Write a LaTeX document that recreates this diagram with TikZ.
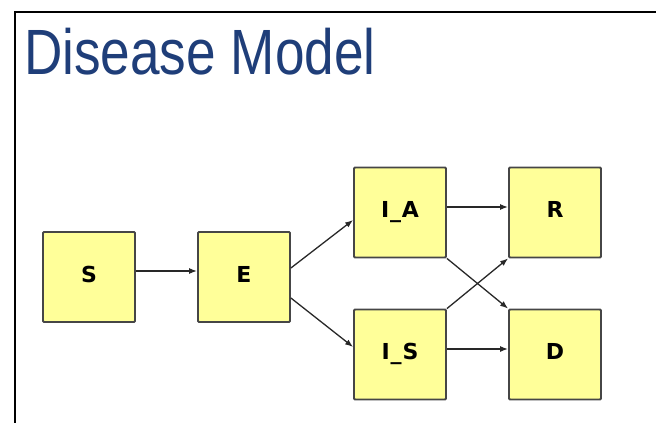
\documentclass[tikz,border=0pt]{standalone}
\usepackage{fontspec}
\usetikzlibrary{arrows.meta}
\newfontfamily\titlefont[FakeStretch=0.83]{Liberation Sans}
\newfontfamily\boxfont[LetterSpace=4]{DejaVu Sans}
\definecolor{titleblue}{RGB}{31,62,121}
\definecolor{boxfill}{RGB}{255,255,153}
\definecolor{boxline}{RGB}{70,70,70}
\definecolor{arrowcol}{RGB}{40,40,40}
\begin{document}
\begin{tikzpicture}[x=1pt,y=-1pt,
  statebox/.style={draw=boxline,fill=boxfill,line width=1.8pt,rounded corners=1pt,
    minimum width=92pt,minimum height=90pt,inner sep=0pt,text height=16pt,text depth=6pt,
    font=\boxfont\bfseries\fontsize{22}{22}\selectfont,text=black},
  flow/.style={draw=arrowcol,line width=1.3pt,-{Latex[length=8pt,width=6pt]}},
  frameline/.style={draw=black,line width=2.2pt}]
\useasboundingbox (0,0) rectangle (656,423);
\coordinate (fa) at (15,423);
\coordinate (fb) at (15,12);
\coordinate (fc) at (656,12);
\draw[frameline] (fa) -- (fb) -- (fc);
\node[anchor=base west,inner sep=0pt,text=titleblue,font=\titlefont\fontsize{64}{64}\selectfont] (title) at (24,74) {Disease Model};
\node[statebox] (S) at (89,277) {S};
\node[statebox] (E) at (244,277) {E};
\node[statebox] (IA) at (400,212.5) {I\_A};
\node[statebox] (IS) at (400,354.5) {I\_S};
\node[statebox] (R) at (555,212.5) {R};
\node[statebox] (D) at (555,354.5) {D};
\draw[flow] ([yshift=6pt]S.east) -- ([yshift=6pt]E.west);
\draw[flow] ([yshift=9pt]E.east) -- ([yshift=-7.5pt]IA.west);
\draw[flow] ([yshift=-21pt]E.east) -- ([yshift=7.5pt]IS.west);
\draw[flow] ([yshift=5.5pt]IA.east) -- ([yshift=5.5pt]R.west);
\draw[flow] ([yshift=5.5pt]IS.east) -- ([yshift=5.5pt]D.west);
\draw[flow] (IA.south east) -- (D.north west);
\draw[flow] (IS.north east) -- (R.south west);
\end{tikzpicture}
\end{document}
